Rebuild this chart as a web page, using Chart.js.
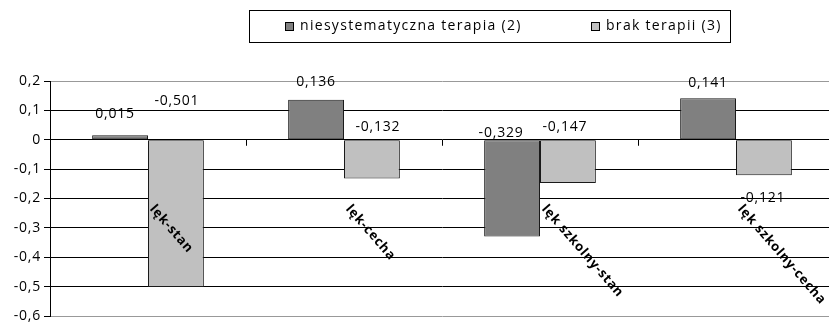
<!DOCTYPE html>
<html lang="pl">
<head>
  <meta charset="utf-8">
  <title>Lęk - terapia</title>
  <script src="https://cdn.jsdelivr.net/npm/chart.js"></script>
  <style>
    body { margin: 0; overflow: hidden; background: #fff; }
  </style>
</head>
<body>
  <canvas id="bar-chart" width="834" height="326"></canvas>

  <script>
    // data
    const categories = ['lęk-stan', 'lęk-cecha', 'lęk szkolny-stan', 'lęk szkolny-cecha'];
    const seriesNames = ['niesystematyczna terapia (2)', 'brak terapii (3)'];
    const niesystematyczna = [0.015, 0.136, -0.329, 0.141];
    const brakTerapii = [-0.501, -0.132, -0.147, -0.121];
    const yTicks = [0.2, 0.1, 0, -0.1, -0.2, -0.3, -0.4, -0.5, -0.6];

    const FONT = '"Open Sans", sans-serif';

    function fmt(v) {
      return String(v).replace('.', ',');
    }

    // nudges (px) of the value labels, Excel put them by hand
    const labelNudge = [
      [[-5, -3], [0, 0], [-11, 10.5], [0, 3]],
      [[1, -21.5], [6, 4.5], [-3, 4.5], [-1, 75.5]]
    ];

    // the excel text is spaced out a bit wider
    const wideText = {
      id: 'wideText',
      beforeDraw(chart) {
        chart.ctx.letterSpacing = '0.8px';
      }
    };

    const valueLabels = {
      id: 'valueLabels',
      afterDatasetsDraw(chart) {
        const ctx = chart.ctx;
        ctx.save();
        ctx.font = '14px ' + FONT;
        ctx.fillStyle = '#000';
        ctx.textAlign = 'center';
        ctx.textBaseline = 'middle';
        chart.data.datasets.forEach((ds, i) => {
          chart.getDatasetMeta(i).data.forEach((bar, j) => {
            const top = Math.min(bar.y, bar.base);
            const n = labelNudge[i][j];
            ctx.fillText(fmt(ds.data[j]), bar.x + n[0], top - 18 + n[1]);
          });
        });
        ctx.restore();
      }
    };

    // category names, rotated, hanging under the zero line + small ticks
    const categoryLabels = {
      id: 'categoryLabels',
      afterDatasetsDraw(chart) {
        const ctx = chart.ctx;
        const x = chart.scales.x;
        const zero = chart.scales.y.getPixelForValue(0);
        ctx.save();
        ctx.strokeStyle = '#000';
        ctx.lineWidth = 1;
        for (let i = 0; i < categories.length - 1; i++) {
          const bx = Math.round((x.getPixelForValue(i) + x.getPixelForValue(i + 1)) / 2) + 0.5;
          ctx.beginPath();
          ctx.moveTo(bx, zero);
          ctx.lineTo(bx, zero + 6);
          ctx.stroke();
        }
        ctx.font = 'bold 13px ' + FONT;
        ctx.fillStyle = '#000';
        ctx.textAlign = 'left';
        ctx.textBaseline = 'middle';
        categories.forEach((c, i) => {
          ctx.save();
          ctx.translate(x.getPixelForValue(i) + 4, zero + 67);
          ctx.rotate(49 * Math.PI / 180);
          ctx.fillText(c, 0, 0);
          ctx.restore();
        });
        ctx.restore();
      }
    };

    // boxed legend like in Excel
    const boxLegend = {
      id: 'boxLegend',
      afterDraw(chart) {
        const ctx = chart.ctx;
        ctx.save();
        ctx.strokeStyle = '#000';
        ctx.lineWidth = 1;
        ctx.strokeRect(249.5, 10.5, 481, 32);
        ctx.font = '14px ' + FONT;
        ctx.letterSpacing = '1.3px';
        ctx.textBaseline = 'middle';
        ctx.textAlign = 'left';
        const items = [[285, 300], [591, 606]];
        chart.data.datasets.forEach((ds, i) => {
          ctx.fillStyle = ds.backgroundColor;
          ctx.fillRect(items[i][0] + 0.5, 22.5, 8, 8);
          ctx.strokeRect(items[i][0] + 0.5, 22.5, 8, 8);
          ctx.fillStyle = '#000';
          ctx.fillText(ds.label, items[i][1], 26);
        });
        ctx.restore();
      }
    };

    const ctx1 = document.getElementById('bar-chart').getContext('2d');
    const chart1 = new Chart(ctx1, {
      type: 'bar',
      data: {
        labels: categories,
        datasets: [{
          label: seriesNames[0],
          data: niesystematyczna,
          backgroundColor: '#808080',
          borderColor: '#1a1a1a',
          borderWidth: 1,
          borderSkipped: false
        }, {
          label: seriesNames[1],
          data: brakTerapii,
          backgroundColor: '#c0c0c0',
          borderColor: '#1a1a1a',
          borderWidth: 1,
          borderSkipped: false
        }]
      },
      options: {
        responsive: false,
        animation: false,
        categoryPercentage: 0.57,
        barPercentage: 1,
        layout: { padding: { top: 81, bottom: 9, left: 0, right: 0 } },
        plugins: {
          legend: { display: false },
          tooltip: { enabled: false }
        },
        scales: {
          x: { display: false },
          y: {
            min: yTicks[yTicks.length - 1],
            max: yTicks[0],
            afterFit(scale) { scale.width = 50; },
            afterBuildTicks(scale) {
              scale.ticks = yTicks.slice().reverse().map(v => ({ value: v }));
            },
            ticks: {
              color: '#000',
              padding: 3,
              font: { family: FONT, size: 14, lineHeight: 1 },
              callback: v => fmt(Math.round(v * 10) / 10)
            },
            grid: {
              color: c => (c.index === 0 || c.index === yTicks.length - 1) ? '#999' : '#000',
              tickColor: '#000',
              tickLength: 6,
              lineWidth: 1
            },
            border: { color: '#000', width: 1 }
          }
        }
      },
      plugins: [wideText, valueLabels, categoryLabels, boxLegend]
    });
  </script>
</body>
</html>
